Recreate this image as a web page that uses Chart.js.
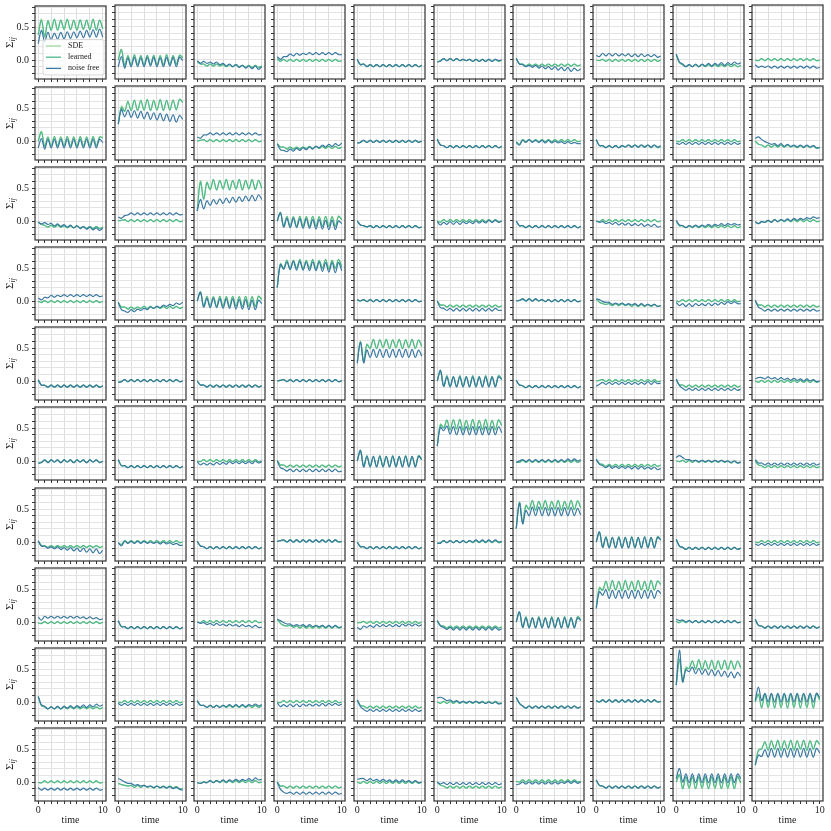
<!DOCTYPE html>
<html>
<head>
<meta charset="utf-8">
<script src="https://cdn.jsdelivr.net/npm/chart.js@4.4.1/dist/chart.umd.min.js"></script>
<style>
    html, body { margin: 0; padding: 0; background: #fff; }
    #grid { position: relative; width: 831px; height: 831px; overflow: hidden; background: #fff; }
    #grid canvas { position: absolute; }
</style>
</head>
<body>
<div id="grid"></div>
<script>
"use strict";

var times = [0, 0.5, 1, 1.5, 2, 2.5, 3, 3.5, 4, 4.5, 5, 5.5, 6, 6.5, 7, 7.5, 8, 8.5, 9, 9.5, 10];
var seriesNames = ['SDE', 'learned', 'noise free'];
var xTicks = [0, 1, 2, 3, 4, 5, 6, 7, 8, 9, 10];
var xTickLabels = ['0', '', '', '', '', '', '', '', '', '', '10'];
var yTicks = [-0.2, -0.1, 0, 0.1, 0.2, 0.3, 0.4, 0.5, 0.6, 0.7, 0.8];
var yTickLabels = ['', '', '0.0', '', '', '', '', '0.5', '', '', ''];

// values in hundredths, 21 samples per panel, panels listed row by row (10 x 10)
var sde = [
    [40,62,36,60,46,61,46,61,46,61,46,61,46,61,46,61,46,61,46,61,48],
    [0,16,-9,7,-7,7,-7,7,-7,7,-7,7,-7,7,-7,7,-7,7,-7,7,4],
    [-2,-6,-6,-9,-6,-9,-6,-9,-7,-10,-7,-10,-7,-10,-8,-11,-8,-11,-8,-11,-9],
    [2,-2,1,-2,1,-2,1,-2,1,-2,1,-2,1,-2,1,-2,1,-2,1,-2,-1],
    [0,-7,-6,-10,-7,-10,-7,-10,-7,-10,-7,-10,-7,-10,-7,-10,-7,-10,-7,-10,-8],
    [-3,-1,2,-1,2,-1,2,-1,1,-1,1,-2,1,-2,1,-2,1,-2,1,-2,0],
    [3,-6,-6,-9,-6,-9,-6,-9,-6,-9,-6,-9,-6,-9,-6,-9,-6,-9,-6,-9,-7],
    [0,-1,1,-2,1,-2,1,-2,1,-2,1,-2,1,-2,1,-2,1,-2,1,-2,0],
    [8,-4,-7,-10,-7,-10,-7,-10,-7,-10,-7,-10,-7,-10,-7,-10,-7,-10,-7,-10,-8],
    [0,-1,2,-1,2,-1,2,-1,2,-1,2,-1,2,-1,2,-1,2,-1,2,-1,0],

    [0,15,-8,7,-7,7,-7,7,-7,7,-7,7,-7,7,-7,7,-7,7,-7,7,6],
    [25,52,45,58,46,60,46,61,46,61,46,61,46,61,46,61,46,61,47,62,58],
    [0,1,2,-1,2,-1,2,-1,2,-1,2,-1,2,-1,2,-1,2,-1,2,-1,0],
    [-4,-9,-9,-12,-9,-12,-9,-12,-9,-11,-8,-11,-8,-11,-8,-11,-8,-11,-8,-11,-9],
    [-3,-2,1,-2,1,-2,1,-2,1,-2,1,-2,1,-2,1,-2,1,-2,1,-2,0],
    [3,-6,-7,-10,-7,-10,-7,-10,-7,-10,-7,-10,-7,-10,-7,-10,-7,-10,-7,-10,-8],
    [-1,-5,2,-1,2,-1,2,-1,2,-1,2,-1,2,-1,2,-1,2,-1,2,-1,0],
    [2,-7,-7,-10,-7,-10,-7,-10,-7,-9,-6,-9,-6,-9,-6,-9,-6,-10,-6,-10,-8],
    [0,-1,2,-1,2,-1,2,-1,2,-1,2,-1,2,-1,2,-1,2,-1,2,-1,0],
    [0,-5,-6,-9,-6,-9,-6,-9,-6,-9,-6,-9,-7,-10,-7,-10,-7,-10,-7,-11,-9],

    [-2,-5,-6,-9,-6,-9,-6,-9,-7,-10,-7,-10,-7,-10,-8,-11,-8,-11,-8,-11,-9],
    [0,1,2,-1,2,-1,2,-1,2,-1,2,-1,2,-1,2,-1,2,-1,2,-1,0],
    [15,60,33,58,46,60,47,61,47,61,47,61,47,61,47,61,47,61,47,61,48],
    [0,13,-9,6,-8,7,-8,7,-8,7,-8,7,-8,7,-8,7,-8,7,-8,7,2],
    [0,-6,-7,-9,-7,-10,-7,-10,-7,-10,-7,-10,-7,-10,-7,-10,-7,-10,-7,-10,-9],
    [0,-2,2,-1,2,-1,2,-1,2,-1,2,-1,2,-1,2,-1,2,-1,2,-1,0],
    [0,-7,-7,-10,-7,-10,-7,-10,-7,-10,-7,-10,-7,-10,-7,-10,-7,-10,-7,-10,-8],
    [0,-1,2,-1,2,-1,2,-1,2,-1,2,-1,2,-1,2,-1,2,-1,2,-1,0],
    [0,-7,-7,-10,-7,-10,-7,-10,-7,-10,-7,-10,-7,-10,-7,-10,-7,-10,-7,-10,-8],
    [-1,-4,-1,-2,1,-2,2,-1,2,-1,2,-1,2,-1,2,-1,2,-1,2,-1,0],

    [0,-2,1,-2,1,-2,1,-2,1,-2,1,-2,1,-2,1,-2,1,-2,1,-2,0],
    [-2,-9,-9,-12,-9,-12,-9,-11,-8,-11,-8,-11,-8,-11,-8,-11,-8,-11,-8,-11,-9],
    [0,14,-9,6,-8,7,-8,7,-8,7,-8,7,-8,7,-8,7,-8,7,-8,7,2],
    [20,56,48,60,48,61,48,61,48,61,48,61,48,61,48,61,48,61,48,61,50],
    [2,0,2,-1,2,-1,2,-1,2,-1,2,-1,2,-1,2,-1,2,-1,2,-1,0],
    [0,-6,-6,-9,-6,-9,-6,-9,-6,-9,-6,-9,-6,-9,-6,-9,-6,-9,-6,-9,-7],
    [0,1,3,0,3,0,3,0,2,-1,2,-1,2,-1,2,-1,2,-1,2,-1,0],
    [3,-2,-4,-5,-4,-7,-4,-7,-4,-7,-5,-8,-5,-8,-5,-8,-5,-8,-5,-8,-7],
    [0,-1,2,-1,2,-1,2,-1,2,-1,2,-1,2,-1,2,-1,2,-1,2,-1,0],
    [0,-6,-6,-9,-6,-9,-6,-9,-6,-9,-6,-9,-6,-9,-6,-9,-6,-9,-6,-9,-7],

    [2,-6,-6,-9,-6,-9,-6,-9,-6,-9,-6,-9,-6,-9,-6,-9,-6,-9,-6,-9,-7],
    [-2,-1,2,-1,2,-1,2,-1,2,-1,2,-1,2,-1,2,-1,2,-1,2,-1,0],
    [0,-6,-6,-9,-6,-9,-6,-9,-6,-9,-6,-9,-6,-9,-6,-9,-6,-9,-6,-9,-7],
    [0,1,2,-1,2,-1,2,-1,2,-1,2,-1,2,-1,2,-1,2,-1,2,-1,0],
    [30,60,30,55,48,61,49,62,49,62,49,62,49,62,49,62,49,62,49,61,50],
    [0,15,-8,7,-8,7,-8,7,-8,7,-8,7,-8,7,-8,7,-8,7,-8,7,3],
    [1,-6,-7,-10,-7,-10,-7,-10,-7,-10,-7,-10,-7,-10,-7,-10,-7,-10,-7,-10,-8],
    [0,1,2,-1,2,-1,2,-1,2,-1,2,-1,2,-1,2,-1,2,-1,2,-1,0],
    [2,-6,-6,-9,-6,-9,-6,-9,-6,-9,-6,-9,-6,-9,-6,-9,-6,-9,-6,-9,-7],
    [0,-2,1,-2,1,-2,1,-2,1,-2,1,-2,1,-2,1,-2,1,-2,1,-2,0],

    [-3,-2,2,-2,2,-1,2,-2,2,-1,2,-2,2,-1,2,-2,2,-1,2,-2,0],
    [2,-7,-7,-10,-7,-10,-7,-10,-7,-10,-7,-10,-7,-10,-7,-10,-7,-10,-7,-10,-8],
    [0,-1,2,-1,2,-1,2,-1,2,-1,2,-1,2,-1,2,-1,2,-1,2,-1,0],
    [1,-6,-6,-9,-6,-9,-6,-9,-6,-9,-6,-9,-6,-9,-6,-9,-6,-9,-6,-9,-7],
    [0,15,-8,7,-8,7,-8,7,-8,7,-8,7,-8,7,-8,7,-8,7,-8,7,2],
    [22,55,50,60,47,62,47,61,46,61,46,61,46,61,46,61,46,61,46,61,52],
    [-2,-2,1,-2,1,-2,1,-2,1,-2,1,-2,1,-2,1,-2,1,-2,1,-2,0],
    [2,-4,-5,-8,-5,-8,-5,-8,-5,-8,-5,-8,-5,-8,-5,-8,-5,-8,-5,-8,-6],
    [0,-1,1,-2,1,-2,1,-2,1,-2,1,-2,1,-2,1,-2,0,-3,0,-3,-1],
    [0,-6,-7,-10,-7,-10,-7,-10,-7,-10,-7,-10,-7,-10,-7,-10,-7,-10,-7,-10,-8],

    [2,-5,-5,-8,-5,-8,-5,-8,-5,-8,-5,-8,-5,-8,-5,-8,-5,-8,-5,-8,-6],
    [-1,-4,2,-1,2,-1,2,-1,2,-1,2,-1,2,-1,2,-1,2,-1,2,-1,0],
    [1,-6,-7,-10,-7,-10,-7,-10,-7,-10,-7,-10,-7,-10,-7,-10,-7,-10,-7,-10,-8],
    [1,2,3,0,3,0,3,0,3,0,3,0,3,0,3,0,3,0,3,0,1],
    [0,-7,-7,-10,-7,-10,-7,-10,-7,-10,-7,-10,-7,-10,-7,-10,-7,-10,-7,-10,-8],
    [-2,-1,2,-1,2,-1,2,-1,2,-1,2,-1,2,-1,2,-1,2,-1,2,-1,0],
    [20,60,30,55,48,61,48,61,48,61,48,61,48,61,48,61,48,61,48,62,50],
    [0,15,-8,7,-8,7,-8,7,-8,7,-8,7,-8,7,-8,7,-8,7,-8,7,3],
    [4,-6,-8,-11,-8,-11,-8,-11,-8,-11,-8,-11,-8,-11,-8,-11,-8,-11,-8,-11,-9],
    [0,-1,2,-1,2,-1,2,-1,2,-1,2,-1,2,-1,2,-1,2,-1,2,-1,0],

    [-1,-2,1,-2,1,-2,1,-2,1,-2,1,-2,1,-2,1,-2,1,-2,1,-2,0],
    [2,-7,-7,-10,-7,-10,-7,-10,-7,-10,-7,-10,-7,-10,-7,-10,-7,-10,-7,-10,-8],
    [0,-1,2,-1,2,-1,2,-1,2,-1,2,-1,2,-1,2,-1,2,-1,2,-1,0],
    [4,-2,-5,-6,-5,-8,-6,-9,-6,-9,-6,-9,-6,-9,-6,-9,-6,-9,-6,-9,-8],
    [-1,-1,1,-2,1,-2,1,-2,1,-2,1,-2,1,-2,1,-2,1,-2,1,-2,0],
    [2,-5,-6,-9,-6,-9,-6,-9,-6,-9,-6,-9,-6,-9,-6,-9,-6,-9,-6,-9,-7],
    [0,15,-8,7,-8,7,-8,7,-8,7,-8,7,-8,7,-8,7,-8,7,-8,7,3],
    [22,52,48,60,47,61,47,61,47,61,47,61,47,61,47,61,47,61,47,61,55],
    [1,-1,2,-1,2,-1,2,-1,2,-1,2,-1,2,-1,2,-1,2,-1,2,-1,0],
    [4,-5,-6,-9,-6,-9,-6,-9,-6,-9,-6,-9,-6,-9,-6,-9,-6,-9,-6,-9,-7],

    [8,-5,-7,-10,-7,-10,-7,-10,-7,-10,-7,-10,-7,-10,-7,-10,-7,-10,-7,-10,-8],
    [0,-1,2,-1,2,-1,2,-1,2,-1,2,-1,2,-1,2,-1,2,-1,2,-1,0],
    [2,-5,-5,-8,-5,-8,-5,-8,-5,-8,-5,-8,-5,-8,-5,-8,-5,-8,-5,-8,-6],
    [0,-1,2,-1,2,-1,2,-1,2,-1,2,-1,2,-1,2,-1,2,-1,2,-1,0],
    [3,-5,-6,-9,-6,-9,-6,-9,-6,-9,-6,-9,-6,-9,-6,-9,-6,-9,-6,-9,-7],
    [0,-2,1,-2,1,-2,1,-2,1,-2,1,-2,1,-2,1,-2,1,-2,1,-2,-1],
    [7,-2,-6,-9,-6,-9,-6,-9,-6,-9,-6,-9,-6,-9,-6,-9,-6,-9,-6,-9,-7],
    [2,0,3,0,3,0,3,0,3,0,3,0,3,0,3,0,3,0,3,0,1],
    [25,62,30,52,50,62,48,62,48,62,48,62,48,62,48,62,48,62,48,61,50],
    [0,12,-8,12,-9,12,-9,12,-9,12,-9,12,-9,12,-9,12,-9,12,-9,12,2],

    [0,-1,2,-1,2,-1,2,-1,2,-1,2,-1,2,-1,2,-1,2,-1,2,-1,0],
    [-2,-4,-5,-6,-5,-8,-5,-8,-5,-8,-6,-9,-6,-9,-6,-9,-6,-9,-7,-10,-10],
    [-1,-2,0,-1,2,-1,2,-1,2,-1,2,-1,2,-1,2,-1,2,-1,2,-1,0],
    [0,-6,-6,-9,-6,-9,-6,-9,-6,-9,-6,-9,-6,-9,-6,-9,-6,-9,-6,-9,-7],
    [0,-2,1,-2,1,-2,1,-2,1,-2,1,-2,1,-2,1,-2,1,-2,1,-2,0],
    [0,-5,-6,-9,-6,-9,-6,-9,-6,-9,-6,-9,-6,-9,-6,-9,-6,-9,-6,-9,-7],
    [1,0,3,0,3,0,3,0,3,0,3,0,3,0,3,0,3,0,3,0,1],
    [3,-5,-6,-9,-6,-9,-6,-9,-6,-9,-6,-9,-6,-9,-6,-9,-6,-9,-6,-9,-7],
    [0,10,-9,8,-10,8,-10,8,-10,8,-10,8,-10,8,-10,8,-10,8,-10,8,-2],
    [25,48,50,58,48,62,48,62,48,62,48,62,48,62,48,62,48,62,48,62,55]
];

var learned = [
    [38,60,35,59,45,62,45,60,47,62,46,60,45,61,47,60,46,62,45,60,47],
    [0,15,-8,6,-8,8,-7,6,-8,7,-6,7,-8,6,-7,8,-7,6,-6,7,3],
    [-2,-6,-6,-9,-6,-9,-6,-9,-7,-10,-7,-10,-7,-10,-8,-11,-8,-11,-8,-11,-9],
    [2,-2,1,-2,1,-2,1,-2,1,-2,1,-2,1,-2,1,-2,1,-2,1,-2,-1],
    [0,-7,-6,-10,-7,-10,-7,-10,-7,-10,-7,-10,-7,-10,-7,-10,-7,-10,-7,-10,-8],
    [-3,-1,2,-1,2,-1,2,-1,1,-1,1,-2,1,-2,1,-2,1,-2,1,-2,0],
    [3,-6,-6,-9,-6,-9,-6,-9,-6,-9,-6,-9,-6,-9,-6,-9,-6,-9,-6,-9,-7],
    [0,-1,1,-2,1,-2,1,-2,1,-2,1,-2,1,-2,1,-2,1,-2,1,-2,0],
    [8,-4,-7,-10,-7,-10,-7,-10,-7,-10,-7,-10,-7,-10,-7,-10,-7,-10,-7,-10,-8],
    [0,-1,2,-1,2,-1,2,-1,2,-1,2,-1,2,-1,2,-1,2,-1,2,-1,0],

    [0,14,-8,6,-8,7,-7,6,-7,7,-7,6,-8,7,-7,6,-7,7,-7,6,5],
    [25,50,44,59,45,61,45,60,46,62,45,60,46,62,45,60,46,61,46,62,57],
    [0,1,2,-1,2,-1,2,-1,2,-1,2,-1,2,-1,2,-1,2,-1,2,-1,0],
    [-4,-9,-9,-12,-9,-12,-9,-12,-9,-11,-8,-11,-8,-11,-8,-11,-8,-11,-8,-11,-9],
    [-3,-2,1,-2,1,-2,1,-2,1,-2,1,-2,1,-2,1,-2,1,-2,1,-2,0],
    [3,-6,-7,-10,-7,-10,-7,-10,-7,-10,-7,-10,-7,-10,-7,-10,-7,-10,-7,-10,-8],
    [-1,-5,2,-1,2,-1,2,-1,2,-1,2,-1,2,-1,2,-1,2,-1,2,-1,0],
    [2,-7,-7,-10,-7,-10,-7,-10,-7,-9,-6,-9,-6,-9,-6,-9,-6,-10,-6,-10,-8],
    [0,-1,2,-1,2,-1,2,-1,2,-1,2,-1,2,-1,2,-1,2,-1,2,-1,0],
    [0,-5,-6,-9,-6,-9,-6,-9,-6,-9,-6,-9,-7,-10,-7,-10,-7,-10,-7,-11,-9],

    [-2,-5,-6,-9,-6,-9,-6,-9,-7,-10,-7,-10,-7,-10,-8,-11,-8,-11,-8,-11,-9],
    [0,1,2,-1,2,-1,2,-1,2,-1,2,-1,2,-1,2,-1,2,-1,2,-1,0],
    [15,58,32,57,47,62,46,60,48,62,46,60,48,62,46,60,48,62,47,60,49],
    [0,12,-8,7,-8,6,-8,7,-8,6,-8,7,-8,6,-8,7,-8,6,-8,7,2],
    [0,-6,-7,-9,-7,-10,-7,-10,-7,-10,-7,-10,-7,-10,-7,-10,-7,-10,-7,-10,-9],
    [0,-2,2,-1,2,-1,2,-1,2,-1,2,-1,2,-1,2,-1,2,-1,2,-1,0],
    [0,-7,-7,-10,-7,-10,-7,-10,-7,-10,-7,-10,-7,-10,-7,-10,-7,-10,-7,-10,-8],
    [0,-1,2,-1,2,-1,2,-1,2,-1,2,-1,2,-1,2,-1,2,-1,2,-1,0],
    [0,-7,-7,-10,-7,-10,-7,-10,-7,-10,-7,-10,-7,-10,-7,-10,-7,-10,-7,-10,-8],
    [-1,-4,-1,-2,1,-2,2,-1,2,-1,2,-1,2,-1,2,-1,2,-1,2,-1,0],

    [0,-2,1,-2,1,-2,1,-2,1,-2,1,-2,1,-2,1,-2,1,-2,1,-2,0],
    [-2,-9,-9,-12,-9,-12,-9,-11,-8,-11,-8,-11,-8,-11,-8,-11,-8,-11,-8,-11,-9],
    [0,13,-8,7,-8,6,-8,7,-8,6,-8,7,-8,6,-8,7,-8,6,-8,7,2],
    [20,55,49,61,47,60,49,62,47,60,49,62,47,60,49,62,47,60,49,62,51],
    [2,0,2,-1,2,-1,2,-1,2,-1,2,-1,2,-1,2,-1,2,-1,2,-1,0],
    [0,-6,-6,-9,-6,-9,-6,-9,-6,-9,-6,-9,-6,-9,-6,-9,-6,-9,-6,-9,-7],
    [0,1,3,0,3,0,3,0,2,-1,2,-1,2,-1,2,-1,2,-1,2,-1,0],
    [3,-2,-4,-5,-4,-7,-4,-7,-4,-7,-5,-8,-5,-8,-5,-8,-5,-8,-5,-8,-7],
    [0,-1,2,-1,2,-1,2,-1,2,-1,2,-1,2,-1,2,-1,2,-1,2,-1,0],
    [0,-6,-6,-9,-6,-9,-6,-9,-6,-9,-6,-9,-6,-9,-6,-9,-6,-9,-6,-9,-7],

    [2,-6,-6,-9,-6,-9,-6,-9,-6,-9,-6,-9,-6,-9,-6,-9,-6,-9,-6,-9,-7],
    [-2,-1,2,-1,2,-1,2,-1,2,-1,2,-1,2,-1,2,-1,2,-1,2,-1,0],
    [0,-6,-6,-9,-6,-9,-6,-9,-6,-9,-6,-9,-6,-9,-6,-9,-6,-9,-6,-9,-7],
    [0,1,2,-1,2,-1,2,-1,2,-1,2,-1,2,-1,2,-1,2,-1,2,-1,0],
    [28,58,29,54,49,62,48,61,50,62,48,61,50,62,48,61,50,62,48,61,52],
    [0,14,-8,8,-8,6,-8,8,-8,6,-8,8,-8,6,-8,8,-8,6,-8,8,3],
    [1,-6,-7,-10,-7,-10,-7,-10,-7,-10,-7,-10,-7,-10,-7,-10,-7,-10,-7,-10,-8],
    [0,1,2,-1,2,-1,2,-1,2,-1,2,-1,2,-1,2,-1,2,-1,2,-1,0],
    [2,-6,-6,-9,-6,-9,-6,-9,-6,-9,-6,-9,-6,-9,-6,-9,-6,-9,-6,-9,-7],
    [0,-2,1,-2,1,-2,1,-2,1,-2,1,-2,1,-2,1,-2,1,-2,1,-2,0],

    [-3,-2,2,-2,2,-1,2,-2,2,-1,2,-2,2,-1,2,-2,2,-1,2,-2,0],
    [2,-7,-7,-10,-7,-10,-7,-10,-7,-10,-7,-10,-7,-10,-7,-10,-7,-10,-7,-10,-8],
    [0,-1,2,-1,2,-1,2,-1,2,-1,2,-1,2,-1,2,-1,2,-1,2,-1,0],
    [1,-6,-6,-9,-6,-9,-6,-9,-6,-9,-6,-9,-6,-9,-6,-9,-6,-9,-6,-9,-7],
    [0,14,-8,8,-8,6,-8,8,-8,6,-8,8,-8,6,-8,8,-8,6,-8,8,2],
    [22,54,49,61,46,61,48,62,46,60,47,62,46,60,47,62,46,60,47,61,53],
    [-2,-2,1,-2,1,-2,1,-2,1,-2,1,-2,1,-2,1,-2,1,-2,1,-2,0],
    [2,-4,-5,-8,-5,-8,-5,-8,-5,-8,-5,-8,-5,-8,-5,-8,-5,-8,-5,-8,-6],
    [0,-1,1,-2,1,-2,1,-2,1,-2,1,-2,1,-2,1,-2,0,-3,0,-3,-1],
    [0,-6,-7,-10,-7,-10,-7,-10,-7,-10,-7,-10,-7,-10,-7,-10,-7,-10,-7,-10,-8],

    [2,-5,-5,-8,-5,-8,-5,-8,-5,-8,-5,-8,-5,-8,-5,-8,-5,-8,-5,-8,-6],
    [-1,-4,2,-1,2,-1,2,-1,2,-1,2,-1,2,-1,2,-1,2,-1,2,-1,0],
    [1,-6,-7,-10,-7,-10,-7,-10,-7,-10,-7,-10,-7,-10,-7,-10,-7,-10,-7,-10,-8],
    [1,2,3,0,3,0,3,0,3,0,3,0,3,0,3,0,3,0,3,0,1],
    [0,-7,-7,-10,-7,-10,-7,-10,-7,-10,-7,-10,-7,-10,-7,-10,-7,-10,-7,-10,-8],
    [-2,-1,2,-1,2,-1,2,-1,2,-1,2,-1,2,-1,2,-1,2,-1,2,-1,0],
    [20,58,29,54,49,62,47,60,49,62,47,60,49,62,47,60,49,62,48,61,51],
    [0,14,-8,8,-8,6,-8,8,-8,6,-8,8,-8,6,-8,8,-8,6,-8,8,3],
    [4,-6,-8,-11,-8,-11,-8,-11,-8,-11,-8,-11,-8,-11,-8,-11,-8,-11,-8,-11,-9],
    [0,-1,2,-1,2,-1,2,-1,2,-1,2,-1,2,-1,2,-1,2,-1,2,-1,0],

    [-1,-2,1,-2,1,-2,1,-2,1,-2,1,-2,1,-2,1,-2,1,-2,1,-2,0],
    [2,-7,-7,-10,-7,-10,-7,-10,-7,-10,-7,-10,-7,-10,-7,-10,-7,-10,-7,-10,-8],
    [0,-1,2,-1,2,-1,2,-1,2,-1,2,-1,2,-1,2,-1,2,-1,2,-1,0],
    [4,-2,-5,-6,-5,-8,-6,-9,-6,-9,-6,-9,-6,-9,-6,-9,-6,-9,-6,-9,-8],
    [-1,-1,1,-2,1,-2,1,-2,1,-2,1,-2,1,-2,1,-2,1,-2,1,-2,0],
    [2,-5,-6,-9,-6,-9,-6,-9,-6,-9,-6,-9,-6,-9,-6,-9,-6,-9,-6,-9,-7],
    [0,14,-8,8,-8,6,-8,8,-8,6,-8,8,-8,6,-8,8,-8,6,-8,8,3],
    [22,50,47,61,46,62,48,60,46,62,48,60,46,62,48,60,46,62,48,61,56],
    [1,-1,2,-1,2,-1,2,-1,2,-1,2,-1,2,-1,2,-1,2,-1,2,-1,0],
    [4,-5,-6,-9,-6,-9,-6,-9,-6,-9,-6,-9,-6,-9,-6,-9,-6,-9,-6,-9,-7],

    [8,-5,-7,-10,-7,-10,-7,-10,-7,-10,-7,-10,-7,-10,-7,-10,-7,-10,-7,-10,-8],
    [0,-1,2,-1,2,-1,2,-1,2,-1,2,-1,2,-1,2,-1,2,-1,2,-1,0],
    [2,-5,-5,-8,-5,-8,-5,-8,-5,-8,-5,-8,-5,-8,-5,-8,-5,-8,-5,-8,-6],
    [0,-1,2,-1,2,-1,2,-1,2,-1,2,-1,2,-1,2,-1,2,-1,2,-1,0],
    [3,-5,-6,-9,-6,-9,-6,-9,-6,-9,-6,-9,-6,-9,-6,-9,-6,-9,-6,-9,-7],
    [0,-2,1,-2,1,-2,1,-2,1,-2,1,-2,1,-2,1,-2,1,-2,1,-2,-1],
    [7,-2,-6,-9,-6,-9,-6,-9,-6,-9,-6,-9,-6,-9,-6,-9,-6,-9,-6,-9,-7],
    [2,0,3,0,3,0,3,0,3,0,3,0,3,0,3,0,3,0,3,0,1],
    [25,64,30,50,50,61,49,63,48,61,49,62,48,61,49,62,48,61,49,61,51],
    [0,11,-9,12,-8,12,-9,12,-8,12,-9,12,-8,12,-9,12,-8,12,-9,12,3],

    [0,-1,2,-1,2,-1,2,-1,2,-1,2,-1,2,-1,2,-1,2,-1,2,-1,0],
    [-2,-4,-5,-6,-5,-8,-5,-8,-5,-8,-6,-9,-6,-9,-6,-9,-6,-9,-7,-10,-10],
    [-1,-2,0,-1,2,-1,2,-1,2,-1,2,-1,2,-1,2,-1,2,-1,2,-1,0],
    [0,-6,-6,-9,-6,-9,-6,-9,-6,-9,-6,-9,-6,-9,-6,-9,-6,-9,-6,-9,-7],
    [0,-2,1,-2,1,-2,1,-2,1,-2,1,-2,1,-2,1,-2,1,-2,1,-2,0],
    [0,-5,-6,-9,-6,-9,-6,-9,-6,-9,-6,-9,-6,-9,-6,-9,-6,-9,-6,-9,-7],
    [1,0,3,0,3,0,3,0,3,0,3,0,3,0,3,0,3,0,3,0,1],
    [3,-5,-6,-9,-6,-9,-6,-9,-6,-9,-6,-9,-6,-9,-6,-9,-6,-9,-6,-9,-7],
    [0,11,-10,8,-9,8,-10,8,-9,8,-10,8,-9,8,-10,8,-9,8,-10,8,-1],
    [25,47,49,60,47,61,49,62,47,61,49,62,47,61,49,62,47,61,49,61,56]
];

var noiseFree = [
    [25,45,28,42,31,41,32,42,32,43,33,43,34,44,34,45,35,46,35,47,35],
    [-10,5,-12,3,-10,4,-10,3,-10,4,-9,4,-10,3,-10,4,-9,4,-10,4,-1],
    [-1,-5,-2,-5,-3,-6,-3,-7,-5,-9,-6,-10,-7,-11,-8,-12,-9,-13,-9,-14,-10],
    [5,1,5,5,9,6,10,7,10,8,11,8,11,8,11,8,11,8,11,8,8],
    [1,-7,-6,-10,-7,-10,-7,-10,-7,-10,-7,-10,-7,-10,-7,-10,-7,-10,-7,-10,-8],
    [-3,-2,2,-1,2,-1,2,-1,1,-1,1,-2,1,-2,1,-2,1,-2,1,-1,0],
    [2,-6,-7,-10,-8,-11,-8,-12,-9,-13,-10,-14,-10,-15,-11,-16,-11,-17,-12,-16,-13],
    [7,5,10,6,10,6,10,6,9,6,9,5,9,5,9,5,8,5,8,4,6],
    [9,-3,-6,-10,-7,-10,-6,-10,-6,-9,-5,-9,-5,-8,-4,-8,-4,-7,-3,-6,-4],
    [-7,-11,-9,-11,-9,-12,-9,-12,-9,-12,-9,-12,-9,-12,-9,-12,-9,-12,-9,-12,-11],

    [-10,4,-12,3,-10,3,-10,3,-10,3,-10,3,-10,3,-10,3,-10,3,-10,3,-2],
    [25,47,36,46,35,45,34,44,33,43,32,42,31,41,30,40,29,39,28,38,32],
    [6,4,9,9,12,9,12,9,12,9,12,9,12,9,12,9,12,9,12,9,10],
    [-4,-13,-14,-16,-12,-15,-11,-14,-10,-13,-9,-12,-8,-10,-6,-9,-5,-8,-4,-7,-3],
    [-3,-2,1,-2,1,-2,1,-2,1,-2,1,-2,1,-2,1,-2,1,-2,1,-2,0],
    [3,-6,-7,-10,-7,-10,-7,-10,-7,-10,-7,-10,-7,-10,-7,-10,-7,-10,-7,-10,-8],
    [-2,-6,1,-2,2,-2,1,-2,1,-3,1,-3,0,-3,-1,-4,-1,-4,-2,-4,-4],
    [2,-7,-7,-10,-7,-10,-7,-10,-7,-9,-6,-9,-6,-9,-6,-9,-6,-9,-6,-9,-7],
    [-3,-5,-2,-5,-2,-5,-2,-5,-2,-5,-2,-5,-2,-5,-2,-5,-2,-5,-2,-5,-3],
    [4,6,2,-1,-3,-5,-4,-7,-4,-8,-5,-8,-6,-9,-6,-9,-6,-9,-7,-10,-10],

    [-1,-4,-2,-5,-3,-7,-4,-8,-5,-9,-6,-10,-7,-11,-8,-12,-9,-13,-10,-14,-10],
    [6,4,8,9,12,9,12,9,12,9,12,9,12,9,12,9,12,9,12,9,10],
    [15,32,18,30,23,32,25,33,26,34,27,35,28,36,29,37,30,38,30,39,32],
    [0,12,-9,4,-10,4,-10,3,-11,3,-11,2,-12,2,-12,1,-13,1,-13,0,-4],
    [0,-6,-7,-9,-7,-10,-7,-10,-7,-10,-7,-10,-7,-10,-7,-10,-7,-10,-7,-10,-9],
    [-1,-6,-2,-5,-1,-5,-1,-5,-1,-4,-1,-4,0,-3,0,-3,1,-2,1,-2,0],
    [0,-7,-7,-10,-7,-10,-7,-10,-7,-10,-7,-10,-7,-10,-7,-10,-7,-10,-7,-10,-8],
    [0,-2,-1,-4,-2,-5,-2,-6,-3,-6,-3,-7,-4,-7,-4,-8,-5,-8,-5,-9,-8],
    [1,-6,-7,-10,-7,-9,-6,-9,-6,-8,-5,-8,-5,-7,-4,-7,-4,-6,-4,-6,-5],
    [-1,-4,-1,-2,1,-2,2,-1,2,0,3,0,4,1,4,2,5,3,6,4,5],

    [5,2,6,5,9,6,9,7,10,7,10,7,10,7,10,7,10,7,10,7,8],
    [-2,-13,-15,-17,-13,-16,-12,-14,-11,-13,-9,-11,-8,-10,-6,-8,-5,-7,-3,-5,-2],
    [0,13,-9,4,-10,4,-10,3,-11,3,-11,3,-12,2,-12,2,-13,1,-13,1,-4],
    [20,54,47,58,47,59,46,59,46,58,45,58,45,58,44,57,43,57,42,57,45],
    [2,0,2,-1,2,-1,2,-1,2,-1,2,-1,2,-1,2,-1,2,-1,2,-1,0],
    [0,-10,-11,-14,-11,-15,-11,-15,-11,-15,-11,-15,-11,-15,-11,-15,-11,-15,-11,-14,-14],
    [0,1,3,0,3,0,3,0,2,-1,2,-1,2,-1,2,-1,2,-1,2,-1,0],
    [3,2,-1,-2,-2,-5,-3,-5,-3,-6,-4,-6,-4,-7,-4,-7,-5,-7,-5,-8,-7],
    [-2,-7,-4,-8,-4,-8,-4,-7,-4,-7,-3,-7,-3,-6,-2,-5,-1,-4,-1,-4,-4],
    [1,-9,-12,-15,-12,-15,-12,-15,-12,-15,-12,-15,-12,-15,-12,-15,-12,-15,-12,-15,-14],

    [2,-6,-6,-9,-6,-9,-6,-9,-6,-9,-6,-9,-6,-9,-6,-9,-6,-9,-6,-9,-7],
    [-2,-1,2,-1,2,-1,2,-1,2,-1,2,-1,2,-1,2,-1,2,-1,2,-1,0],
    [0,-6,-6,-9,-6,-9,-6,-9,-6,-9,-6,-9,-6,-9,-6,-9,-6,-9,-6,-9,-7],
    [0,1,2,-1,2,-1,2,-1,2,-1,2,-1,2,-1,2,-1,2,-1,2,-1,1],
    [26,58,27,46,35,47,35,47,35,47,35,47,35,47,35,47,35,47,35,46,37],
    [0,16,-8,6,-9,6,-9,6,-9,6,-9,6,-9,6,-9,6,-9,6,-9,6,2],
    [1,-6,-7,-10,-7,-10,-7,-10,-7,-10,-7,-10,-7,-10,-7,-10,-7,-10,-7,-10,-8],
    [-8,-5,-2,-5,-2,-5,-2,-5,-2,-5,-2,-5,-2,-5,-2,-5,-1,-5,-1,-4,-3],
    [3,-7,-11,-14,-11,-14,-11,-14,-11,-14,-11,-14,-11,-14,-11,-14,-11,-14,-11,-14,-12],
    [3,5,5,3,6,3,5,2,5,2,4,1,4,1,3,0,3,0,2,-1,0],

    [-3,-2,2,-2,2,-1,2,-2,2,-1,2,-2,2,-1,2,-2,2,-1,2,-2,0],
    [2,-7,-7,-10,-7,-10,-7,-10,-7,-10,-7,-10,-7,-10,-7,-10,-7,-10,-7,-10,-8],
    [-1,-6,-3,-6,-3,-6,-2,-5,-2,-5,-1,-4,-1,-4,-1,-4,-1,-4,0,-3,-1],
    [0,-10,-12,-15,-12,-16,-12,-16,-12,-16,-12,-16,-12,-16,-12,-16,-12,-16,-12,-16,-15],
    [0,16,-9,7,-9,7,-9,7,-9,7,-9,7,-9,7,-9,7,-9,7,-9,7,2],
    [22,50,45,52,40,51,39,51,39,51,39,51,39,51,39,51,39,51,39,51,42],
    [-2,0,2,-1,2,-1,2,-1,2,-1,2,-1,2,-1,2,-1,3,0,3,0,2],
    [3,-5,-7,-10,-7,-11,-8,-11,-8,-11,-8,-12,-8,-12,-8,-12,-9,-12,-9,-13,-11],
    [5,8,5,2,2,0,1,-1,1,-1,1,-1,1,-1,1,-1,0,-2,0,-3,-2],
    [2,-3,-3,-6,-3,-6,-3,-6,-3,-6,-3,-6,-3,-6,-3,-6,-3,-6,-3,-6,-4],

    [2,-6,-6,-9,-7,-10,-7,-11,-8,-12,-8,-13,-9,-14,-9,-15,-10,-16,-10,-17,-12],
    [-1,-6,1,-2,1,-2,1,-2,1,-2,0,-2,0,-3,0,-3,-1,-4,-2,-5,-5],
    [1,-6,-7,-10,-7,-10,-7,-10,-7,-10,-7,-10,-7,-10,-7,-10,-7,-10,-7,-10,-8],
    [1,2,3,0,3,0,3,0,3,0,3,0,3,0,3,0,3,0,3,0,1],
    [0,-7,-7,-10,-7,-10,-7,-10,-7,-10,-7,-10,-7,-10,-7,-10,-7,-10,-7,-10,-8],
    [-2,-2,2,-1,2,-1,2,-1,2,-1,2,0,3,0,3,0,3,0,3,0,1],
    [20,58,27,47,39,52,39,52,39,51,39,51,39,51,39,51,39,51,39,50,40],
    [0,15,-8,7,-9,7,-9,7,-9,7,-9,7,-9,7,-9,7,-9,7,-9,7,3],
    [4,-6,-8,-11,-8,-11,-8,-11,-8,-11,-8,-11,-8,-11,-8,-11,-8,-11,-8,-11,-9],
    [-3,-5,-2,-5,-2,-5,-2,-5,-2,-5,-2,-5,-2,-5,-2,-5,-2,-5,-2,-5,-3],

    [8,3,9,6,9,6,9,6,9,6,9,6,9,6,8,5,8,5,7,4,5],
    [2,-7,-7,-10,-7,-10,-7,-10,-7,-10,-7,-10,-7,-10,-7,-10,-7,-10,-7,-10,-8],
    [0,-2,-1,-4,-2,-5,-2,-5,-3,-6,-3,-6,-4,-7,-4,-7,-5,-8,-5,-8,-8],
    [4,2,-1,-3,-3,-6,-4,-6,-4,-7,-4,-7,-5,-7,-5,-8,-5,-8,-5,-8,-7],
    [-8,-11,-6,-8,-5,-8,-4,-7,-4,-7,-4,-7,-4,-7,-3,-6,-3,-6,-3,-6,-4],
    [2,-6,-8,-11,-8,-12,-8,-12,-8,-12,-8,-12,-8,-12,-8,-12,-8,-12,-8,-12,-10],
    [0,15,-8,6,-9,6,-9,6,-9,6,-9,6,-9,6,-9,6,-9,6,-9,6,2],
    [20,45,40,48,35,47,35,47,35,47,35,47,35,47,35,47,35,47,35,47,42],
    [4,2,3,0,2,-1,2,-1,2,-1,2,-1,2,-1,2,-1,2,-1,2,-1,0],
    [4,-5,-6,-9,-6,-9,-6,-9,-6,-9,-6,-9,-6,-9,-6,-9,-6,-9,-6,-9,-7],

    [9,-4,-6,-10,-7,-10,-6,-10,-6,-9,-5,-9,-5,-8,-4,-8,-4,-7,-3,-6,-4],
    [-2,-5,-2,-5,-2,-5,-2,-5,-2,-5,-2,-5,-2,-5,-2,-5,-2,-5,-2,-5,-3],
    [2,-5,-5,-8,-5,-8,-5,-8,-5,-7,-4,-7,-4,-7,-4,-7,-4,-6,-3,-6,-4],
    [-1,-7,-4,-7,-3,-7,-3,-7,-3,-6,-3,-6,-3,-6,-2,-6,-2,-5,-2,-5,-3],
    [3,-7,-11,-14,-11,-14,-11,-14,-11,-14,-11,-14,-11,-14,-11,-14,-11,-14,-11,-14,-12],
    [6,7,5,2,3,0,2,-1,1,-1,1,-1,1,-1,0,-2,0,-2,0,-3,-2],
    [7,-2,-6,-9,-6,-9,-6,-9,-6,-9,-6,-9,-6,-9,-6,-9,-6,-9,-6,-9,-7],
    [2,0,3,0,3,0,3,0,3,0,3,0,3,0,3,0,3,0,3,0,1],
    [25,77,30,48,45,52,42,50,41,49,40,48,39,47,38,46,37,45,36,44,38],
    [2,22,2,13,0,13,0,13,0,13,0,13,0,13,0,13,0,13,0,13,6],

    [-8,-12,-9,-12,-9,-12,-9,-12,-9,-12,-9,-12,-9,-12,-9,-12,-9,-12,-9,-12,-11],
    [5,3,0,-2,-2,-5,-4,-6,-5,-7,-6,-8,-6,-8,-7,-9,-7,-10,-8,-11,-12],
    [-1,-2,0,-1,2,-1,2,0,3,0,3,1,4,1,4,2,5,2,6,3,4],
    [0,-11,-15,-17,-15,-18,-15,-18,-15,-18,-15,-18,-15,-18,-15,-18,-15,-18,-15,-18,-17],
    [4,5,5,2,5,2,4,1,4,1,3,0,3,0,3,0,2,-1,2,-1,0],
    [0,-3,-1,-4,-1,-4,-1,-4,-1,-4,-1,-4,-1,-4,-1,-4,-1,-4,-1,-4,-2],
    [-4,-3,0,-3,0,-3,0,-3,0,-3,0,-3,0,-3,0,-2,1,-2,1,-2,0],
    [3,-5,-6,-9,-6,-9,-6,-9,-6,-9,-6,-9,-6,-9,-6,-9,-6,-9,-6,-9,-7],
    [5,20,0,12,-1,12,-1,12,-1,12,-1,12,-1,12,-1,12,-1,12,-1,12,5],
    [25,40,38,48,37,50,37,50,37,50,37,50,37,50,37,50,37,50,37,50,43]
];

var colors = ['#9ad89a', '#4fba8b', '#3a78a2'];
var serif = "'Liberation Serif', 'DejaVu Serif', serif";

var PANEL_W = 71, PANEL_H = 74;
var COL_STEP = 79.7, ROW_STEP = 80.2, LEFT0 = 35, TOP0 = 5.3;
var AX_L = 35, PAD_T = 8, PAD_R = 8, AX_B = 30;

var drawLegend = function (chart) {
    var ctx = chart.ctx, a = chart.chartArea;
    var x = a.left + 8, y = a.top + 33.5, w = 61, h = 35.5, r = 2;
    ctx.beginPath();
    ctx.moveTo(x + r, y);
    ctx.lineTo(x + w - r, y);
    ctx.arcTo(x + w, y, x + w, y + r, r);
    ctx.lineTo(x + w, y + h - r);
    ctx.arcTo(x + w, y + h, x + w - r, y + h, r);
    ctx.lineTo(x + r, y + h);
    ctx.arcTo(x, y + h, x, y + h - r, r);
    ctx.lineTo(x, y + r);
    ctx.arcTo(x, y, x + r, y, r);
    ctx.closePath();
    ctx.fillStyle = 'rgba(255,255,255,0.8)';
    ctx.fill();
    ctx.strokeStyle = '#cfcfcf';
    ctx.lineWidth = 0.8;
    ctx.stroke();

    ctx.font = '8px ' + serif;
    ctx.textBaseline = 'middle';
    ctx.textAlign = 'left';
    chart.data.datasets.forEach(function (ds, k) {
        var ly = y + 6.5 + k * 11.2;
        ctx.strokeStyle = ds.borderColor;
        ctx.lineWidth = 1.3;
        ctx.beginPath();
        ctx.moveTo(x + 3, ly);
        ctx.lineTo(x + 18, ly);
        ctx.stroke();
        ctx.fillStyle = '#222';
        ctx.fillText(ds.label, x + 25, ly);
    });
};

var drawYTitle = function (chart) {
    var ctx = chart.ctx, a = chart.chartArea;
    ctx.translate(10, (a.top + a.bottom) / 2);
    ctx.rotate(-Math.PI / 2);
    ctx.fillStyle = '#222';
    ctx.textBaseline = 'middle';
    ctx.textAlign = 'left';
    ctx.font = '11px ' + serif;
    var w1 = ctx.measureText('Σ').width;
    ctx.font = 'italic 8px ' + serif;
    var w2 = ctx.measureText('ij').width;
    var x0 = -(w1 + w2) / 2;
    ctx.font = '11px ' + serif;
    ctx.fillText('Σ', x0, 0);
    ctx.font = 'italic 8px ' + serif;
    ctx.fillText('ij', x0 + w1, 2.5);
};

var decor = {
    id: 'decor',
    afterDatasetsDraw: function (chart, args, opts) {
        var a = chart.chartArea, ctx = chart.ctx;
        ctx.save();
        ctx.strokeStyle = '#3a3a3a';
        ctx.lineWidth = 1.25;
        ctx.strokeRect(a.left, a.top, a.right - a.left, a.bottom - a.top);
        ctx.restore();
        if (opts.legend) {
            ctx.save();
            drawLegend(chart);
            ctx.restore();
        }
        if (opts.yTitle) {
            ctx.save();
            drawYTitle(chart);
            ctx.restore();
        }
    }
};

var makePanel = function (container, r, c) {
    var idx = r * 10 + c;
    var canvas = document.createElement('canvas');
    canvas.width = AX_L + PANEL_W + PAD_R;
    canvas.height = PAD_T + PANEL_H + AX_B;
    canvas.style.left = (Math.round(LEFT0 + c * COL_STEP) - AX_L) + 'px';
    canvas.style.top = (Math.round(TOP0 + r * ROW_STEP) - PAD_T) + 'px';
    container.appendChild(canvas);

    var series = [sde[idx], learned[idx], noiseFree[idx]];
    var datasets = series.map(function (vals, k) {
        return {
            label: seriesNames[k],
            data: vals.map(function (v, n) { return { x: times[n], y: v / 100 }; }),
            borderColor: colors[k],
            backgroundColor: colors[k],
            borderWidth: 1.2,
            order: 2 - k,
            pointRadius: 0,
            tension: 0.35,
            fill: false
        };
    });

    new Chart(canvas.getContext('2d'), {
        type: 'line',
        data: { datasets: datasets },
        plugins: [decor],
        options: {
            responsive: false,
            animation: false,
            devicePixelRatio: 1,
            events: [],
            layout: { padding: { top: PAD_T, right: PAD_R, left: 0, bottom: 0 } },
            plugins: {
                legend: { display: false },
                tooltip: { enabled: false },
                decor: { legend: idx === 0, yTitle: c === 0 }
            },
            scales: {
                x: {
                    type: 'linear',
                    min: -0.5,
                    max: 10.5,
                    afterBuildTicks: function (scale) {
                        scale.ticks = xTicks.map(function (v) { return { value: v }; });
                    },
                    afterFit: function (scale) { scale.height = AX_B; },
                    border: { display: false },
                    grid: {
                        color: function (ctx) {
                            return ctx.tick && ctx.tick.value % 2 === 0 ? '#dedede' : 'rgba(0,0,0,0)';
                        },
                        lineWidth: 1,
                        tickColor: '#333',
                        tickLength: 3,
                        drawTicks: true
                    },
                    ticks: {
                        display: r === 9,
                        autoSkip: false,
                        maxRotation: 0,
                        padding: 0,
                        color: '#222',
                        font: { family: serif, size: 10 },
                        callback: function (value, index) { return xTickLabels[index]; }
                    },
                    title: {
                        display: r === 9,
                        text: 'time',
                        color: '#222',
                        font: { family: serif, size: 10 },
                        padding: { top: 0, bottom: 5 }
                    }
                },
                y: {
                    type: 'linear',
                    min: -0.283,
                    max: 0.818,
                    afterBuildTicks: function (scale) {
                        scale.ticks = yTicks.map(function (v) { return { value: v }; });
                    },
                    afterFit: function (scale) { scale.width = AX_L; },
                    border: { display: false },
                    grid: {
                        color: '#e3e3e3',
                        lineWidth: 1,
                        tickColor: '#333',
                        tickLength: 3,
                        drawTicks: true
                    },
                    ticks: {
                        display: c === 0,
                        autoSkip: false,
                        padding: 3,
                        color: '#222',
                        font: { family: serif, size: 10 },
                        callback: function (value, index) { return yTickLabels[index]; }
                    }
                }
            }
        }
    });
};

var buildGrid = function () {
    var container = document.getElementById('grid');
    for (var r = 0; r < 10; r++) {
        for (var c = 0; c < 10; c++) {
            makePanel(container, r, c);
        }
    }
    var bad = [];
    [sde, learned, noiseFree].forEach(function (list, k) {
        list.forEach(function (vals, i) {
            if (vals.length !== times.length) bad.push(seriesNames[k] + ' #' + i + ' len ' + vals.length);
        });
        if (list.length !== 100) bad.push(seriesNames[k] + ' panels ' + list.length);
    });
    if (bad.length) throw new Error('data length mismatch: ' + bad.join('; '));
};

buildGrid();
</script>
</body>
</html>
